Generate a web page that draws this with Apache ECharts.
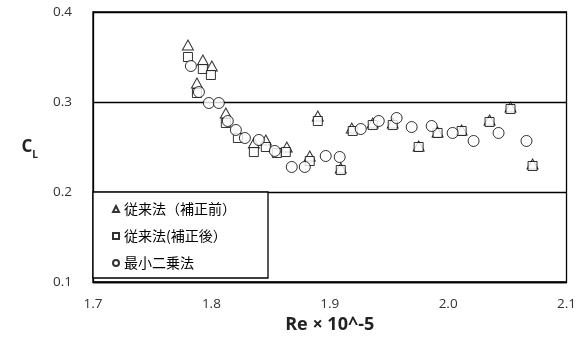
<!DOCTYPE html>
<html>
<head>
<meta charset="utf-8">
<script src="https://cdn.jsdelivr.net/npm/echarts@6/dist/echarts.min.js"></script>
<style>html,body{margin:0;padding:0;background:#fff;}#c{width:579px;height:341px;}</style>
</head>
<body>
<div id="c"></div>
<script>
const seriesNames = ['従来法（補正前）', '従来法(補正後）', '最小二乗法'];
const xTicks = [1.7, 1.8, 1.9, 2.0, 2.1];
const yTicks = [0.1, 0.2, 0.3, 0.4];

const triX = [1.7802, 1.7878, 1.7928, 1.8004, 1.8122, 1.8359, 1.8460, 1.8637, 1.8831, 1.8899, 1.9093, 1.9186, 1.9363, 1.9532, 1.9751, 1.9911, 2.0114, 2.0350, 2.0527, 2.0713];
const triY = [0.3633, 0.3211, 0.3467, 0.3400, 0.2878, 0.2544, 0.2578, 0.2500, 0.2400, 0.2844, 0.2267, 0.2711, 0.2767, 0.2767, 0.2511, 0.2667, 0.2689, 0.2800, 0.2944, 0.2311];

const sqX = [1.7802, 1.7878, 1.7928, 1.7996, 1.8122, 1.8224, 1.8359, 1.8460, 1.8553, 1.8629, 1.8831, 1.8899, 1.9093, 1.9194, 1.9363, 1.9532, 1.9751, 1.9911, 2.0114, 2.0350, 2.0527, 2.0713];
const sqY = [0.3500, 0.3100, 0.3367, 0.3300, 0.2767, 0.2600, 0.2444, 0.2500, 0.2433, 0.2444, 0.2344, 0.2789, 0.2244, 0.2678, 0.2744, 0.2744, 0.2500, 0.2656, 0.2678, 0.2778, 0.2922, 0.2289];

const cirX = [1.7827, 1.7895, 1.7979, 1.8063, 1.8139, 1.8207, 1.8283, 1.8401, 1.8536, 1.8679, 1.8789, 1.8966, 1.9084, 1.9262, 1.9414, 1.9565, 1.9692, 1.9861, 2.0038, 2.0215, 2.0426, 2.0662];
const cirY = [0.3400, 0.3111, 0.2989, 0.2989, 0.2789, 0.2689, 0.2600, 0.2578, 0.2456, 0.2278, 0.2278, 0.2400, 0.2389, 0.2700, 0.2789, 0.2822, 0.2722, 0.2733, 0.2656, 0.2567, 0.2656, 0.2567];

const zip = (a, b) => a.map((v, i) => [v, b[i]]);
const lblFont = '"Open Sans", Lato, sans-serif';
const markStyle = {color: '#ffffff', borderColor: '#000000', borderWidth: 1};

const chart = echarts.init(document.getElementById('c'));
chart.setOption({
  animation: false,
  backgroundColor: '#ffffff',
  grid: {left: 93, right: 12, top: 12, bottom: 59, show: true, borderColor: '#000', borderWidth: 1.3, backgroundColor: 'transparent'},
  xAxis: {
    type: 'value', min: xTicks[0], max: xTicks[xTicks.length - 1], interval: 0.1,
    axisLine: {show: true, lineStyle: {color: '#000', width: 1.3}},
    axisTick: {show: false},
    splitLine: {show: false},
    axisLabel: {margin: 15, fontSize: 13.5, color: '#333', fontFamily: lblFont, formatter: v => v.toFixed(1)},
    name: 'Re × 10^-5', nameLocation: 'middle', nameGap: 27,
    nameTextStyle: {fontSize: 18, fontWeight: 'bold', color: '#222', fontFamily: lblFont}
  },
  yAxis: {
    type: 'value', min: yTicks[0], max: yTicks[yTicks.length - 1], interval: 0.1,
    axisLine: {show: true, lineStyle: {color: '#000', width: 1.3}},
    axisTick: {show: false},
    splitLine: {show: true, lineStyle: {color: '#000', width: 1.3}},
    axisLabel: {margin: 21, fontSize: 13.5, color: '#333', fontFamily: lblFont, formatter: v => v.toFixed(1)},
    name: '{c|C}{l|L}', nameLocation: 'middle', nameRotate: 0, nameGap: 55,
    nameTextStyle: {
      rich: {
        c: {fontSize: 17, fontWeight: 'bold', color: '#222', fontFamily: lblFont, verticalAlign: 'bottom', lineHeight: 18},
        l: {fontSize: 10, fontWeight: 'bold', color: '#222', fontFamily: lblFont, verticalAlign: 'bottom', lineHeight: 10, padding: [0, 0, -4, 0]}
      }
    }
  },
  legend: {
    orient: 'vertical', left: 112, top: 202, padding: 0, z: 20,
    itemWidth: 6, itemHeight: 6, itemGap: 13,
    data: [
      {name: seriesNames[0], icon: 'triangle'},
      {name: seriesNames[1], icon: 'rect'},
      {name: seriesNames[2], icon: 'circle'}
    ],
    textStyle: {fontSize: 14, lineHeight: 14, color: '#000', fontFamily: '"Noto Sans CJK JP", sans-serif'}
  },
  graphic: [{
    type: 'rect', z: 5,
    shape: {x: 93, y: 192, width: 175, height: 86},
    style: {fill: '#fff', stroke: '#000', lineWidth: 1.3}
  }],
  series: [
    {name: seriesNames[0], type: 'scatter', symbol: 'triangle', symbolSize: [11, 10], data: zip(triX, triY), itemStyle: markStyle, z: 2},
    {name: seriesNames[1], type: 'scatter', symbol: 'rect', symbolSize: 9, data: zip(sqX, sqY), itemStyle: markStyle, z: 3},
    {name: seriesNames[2], type: 'scatter', symbol: 'circle', symbolSize: 11, data: zip(cirX, cirY), itemStyle: markStyle, z: 4}
  ]
});
</script>
</body>
</html>
